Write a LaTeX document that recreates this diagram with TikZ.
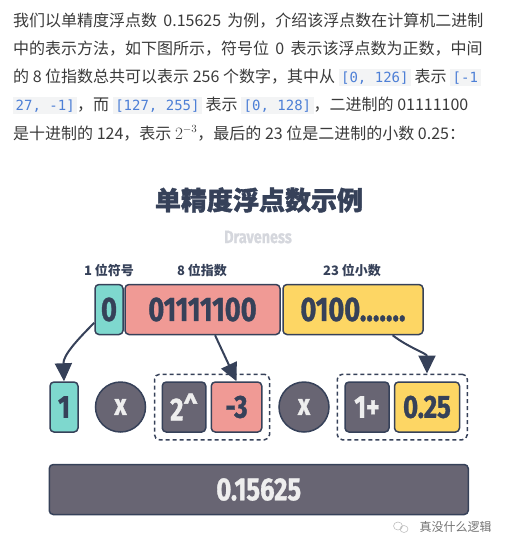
\documentclass[tikz,border=0pt]{standalone}
\usepackage{fontspec}
\usetikzlibrary{arrows.meta,fit}
\setmainfont{Noto Sans CJK SC}
\newfontfamily\titlefont{Noto Sans CJK SC}[BoldFeatures={FakeBold=1.5}]
\newfontfamily\numfont{Fira Sans}[FakeStretch=0.8,BoldFeatures={FakeBold=1}]
\newfontfamily\codefont{DejaVu Sans Mono}
\definecolor{navy}{HTML}{364159}
\definecolor{signc}{HTML}{7ED8CE}
\definecolor{expc}{HTML}{F09A95}
\definecolor{fracc}{HTML}{FDD664}
\definecolor{greyc}{HTML}{686573}
\definecolor{lightc}{HTML}{EEEEEE}
\definecolor{bodytext}{HTML}{3A3A3A}
\definecolor{codeblue}{HTML}{4D7FD6}
\definecolor{codebg}{HTML}{F3F4F5}
\definecolor{markc}{HTML}{D5D7DD}
\newcommand\code[1]{{\setlength\fboxsep{2.5pt}\colorbox{codebg}{\codefont\fontsize{14}{14}\selectfont\textcolor{codeblue}{#1}}}}

\begin{document}
\begin{tikzpicture}[x=1pt,y=-1pt,
body/.style={anchor=base west,inner sep=0pt,text=bodytext,font=\fontsize{16}{16}\selectfont},
caption/.style={text=navy,font=\bfseries\fontsize{13}{13}\selectfont},
bit/.style={draw=navy,line width=1.5pt,rounded corners=4pt,minimum height=50pt,inner sep=0pt,
  text=navy,font=\numfont\bfseries\fontsize{32}{32}\selectfont},
op/.style={circle,draw=navy,fill=greyc,line width=1.5pt,minimum size=50pt,inner sep=0pt,
  text=lightc,font=\numfont\bfseries\fontsize{30}{30}\selectfont},
grp/.style={draw=navy,line width=1.5pt,dash pattern=on 4pt off 3pt,rounded corners=5pt,inner sep=7pt},
flow/.style={draw=navy,line width=2pt,-{Triangle[length=18pt,width=17pt]}}]
\useasboundingbox (0,0) rectangle (527,560);

\node[body] (l1) at (13,26) {我们以单精度浮点数 \,0.15625\, 为例，介绍该浮点数在计算机二进制};
\node[body] (l2) at (13,54) {中的表示方法，如下图所示，符号位 \,0\, 表示该浮点数为正数，中间};
\node[body] (l3) at (13,82) {的 8 位指数总共可以表示 256 个数字，其中从 \code{[0, 126]} 表示 \code{[-1}};
\node[body] (l4) at (13,110) {\code{27, -1]}，而 \code{[127, 255]} 表示 \code{[0, 128]}，二进制的 01111100};
\node[body] (l5) at (13,139) {是十进制的 124，表示 $2^{-3}$，最后的 23 位是二进制的小数 0.25：};

\node[text=navy,font=\titlefont\bfseries\fontsize{26}{26}\selectfont] (title) at (259,200) {单精度浮点数示例};
\node[text=markc,font=\numfont\bfseries\fontsize{18}{18}\selectfont] (author) at (258,237) {Draveness};

\node[caption] (capsign) at (109,270) {1 位符号};
\node[caption] (capexp) at (202,270) {8 位指数};
\node[caption] (capfrac) at (352,270) {23 位小数};

\node[bit,fill=signc,minimum width=28pt,font=\numfont\bfseries\fontsize{34}{34}\selectfont] (sign) at (109,309.5) {0};
\node[bit,fill=expc,minimum width=155pt,font=\numfont\bfseries\fontsize{34}{34}\selectfont] (exp) at (202.5,309.5) {01111100};
\node[bit,fill=fracc,minimum width=140pt,font=\numfont\bfseries\fontsize{34}{34}\selectfont] (frac) at (353,309.5) {0100.......};

\node[bit,fill=signc,minimum width=28pt] (one) at (64,407) {1};
\node[op] (times1) at (120.5,407) {x};
\node[bit,fill=greyc,text=lightc,minimum width=43.5pt] (pow) at (184,407) {2\^{}};
\node[bit,fill=expc,minimum width=50.5pt] (minus) at (236.5,407) {-3};
\node[op] (times2) at (304,407) {x};
\node[bit,fill=greyc,text=lightc,minimum width=44pt] (plus) at (367,407) {1+};
\node[bit,fill=fracc,minimum width=65pt] (quarter) at (427,407) {0.25};
\node[grp,fit=(pow)(minus)] (grpa) {};
\node[grp,fit=(plus)(quarter)] (grpb) {};

\node[bit,fill=greyc,text=lightc,minimum width=419pt] (result) at (258.75,489.5) {0.15625};

\draw[flow] (sign.222) to[out=225,in=92] (one.north);
\draw[flow] (exp.296) -- (minus.north);
\draw[flow] (frac.327) to[out=-38,in=90] (quarter |- grpb.north);

\draw[black!25,line width=0.6pt] (398,526) ellipse (4.5pt and 4pt) (404,529) ellipse (4pt and 3.5pt);
\node[anchor=west,text=black!55,font=\fontsize{12}{12}\selectfont] (wm) at (416,527) {真没什么逻辑};
\end{tikzpicture}
\end{document}
